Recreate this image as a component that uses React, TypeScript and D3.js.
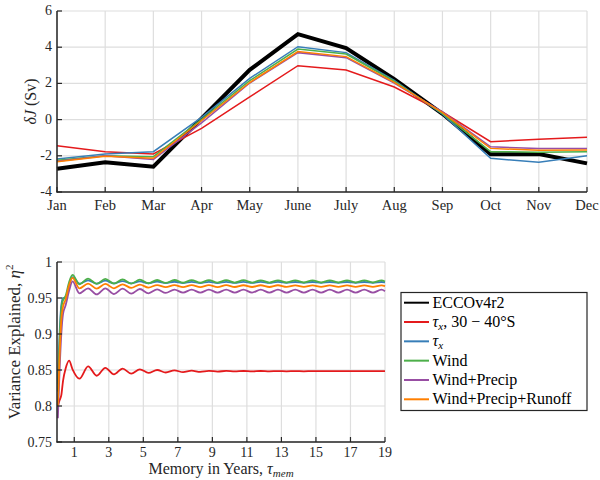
import React from "react";
import * as d3 from "d3";

// ---------- Top chart data ----------
const months = ["Jan", "Feb", "Mar", "Apr", "May", "June", "July", "Aug", "Sep", "Oct", "Nov", "Dec"];
const eccoJ = [-2.72, -2.36, -2.6, 0.07, 2.75, 4.72, 3.95, 2.24, 0.32, -1.92, -1.9, -2.42];
const tauX3040J = [-1.44, -1.77, -1.9, -0.48, 1.25, 2.98, 2.74, 1.8, 0.42, -1.22, -1.09, -0.98];
const tauXJ = [-2.18, -1.9, -1.77, 0.12, 2.28, 4.03, 3.7, 2.17, 0.3, -2.14, -2.36, -2.0];
const windJ = [-2.25, -2.0, -2.05, 0.02, 2.15, 3.9, 3.62, 2.12, 0.33, -1.77, -1.8, -1.77];
const windPrecipJ = [-2.3, -2.0, -2.2, -0.18, 2.02, 3.7, 3.42, 2.02, 0.42, -1.5, -1.6, -1.6];
const windPrecipRunoffJ = [-2.33, -2.03, -2.14, -0.05, 2.05, 3.76, 3.48, 2.06, 0.38, -1.59, -1.7, -1.68];
const topYTicks = [-4, -2, 0, 2, 4, 6];

// ---------- Bottom chart data ----------
const memoryYears = [0.05, 0.15, 0.25, 0.35, 0.5, 0.7, 0.9, 1.3, 1.8, 2.3, 2.8, 3.3, 3.8, 4.3, 4.8, 5.3, 5.8, 6.3, 6.8, 7.3, 7.8, 8.3, 8.8, 9.3, 9.8, 10.3, 10.8, 11.3, 11.8, 12.3, 12.8, 13.3, 13.8, 14.3, 14.8, 15.3, 15.8, 16.3, 16.8, 17.3, 17.8, 18.3, 18.8, 19.0];
const tauX3040Var = [0.8, 0.808, 0.815, 0.835, 0.852, 0.863, 0.851, 0.838, 0.855, 0.842, 0.853, 0.844, 0.852, 0.845, 0.851, 0.846, 0.85, 0.8465, 0.8495, 0.847, 0.849, 0.8475, 0.8488, 0.8478, 0.8487, 0.848, 0.8486, 0.848, 0.8486, 0.8481, 0.8485, 0.8482, 0.8485, 0.8482, 0.8485, 0.8483, 0.8485, 0.8483, 0.8485, 0.8483, 0.8485, 0.8483, 0.8485, 0.8484];
const tauXVar = [0.83, 0.9, 0.94, 0.95, 0.949, 0.968, 0.979, 0.97, 0.9745, 0.97, 0.974, 0.9702, 0.9735, 0.9703, 0.973, 0.9705, 0.9728, 0.9706, 0.9726, 0.9707, 0.9725, 0.9708, 0.9724, 0.9708, 0.9724, 0.9709, 0.9723, 0.9709, 0.9723, 0.9709, 0.9723, 0.971, 0.9722, 0.971, 0.9722, 0.971, 0.9722, 0.971, 0.9722, 0.971, 0.9722, 0.971, 0.9722, 0.9716];
const windVar = [0.82, 0.89, 0.935, 0.947, 0.953, 0.972, 0.982, 0.969, 0.977, 0.9695, 0.9765, 0.97, 0.976, 0.970, 0.9755, 0.9705, 0.975, 0.971, 0.975, 0.9712, 0.9748, 0.9712, 0.9748, 0.9713, 0.9747, 0.9713, 0.9747, 0.9714, 0.9746, 0.9714, 0.9746, 0.9715, 0.9745, 0.9715, 0.9745, 0.9715, 0.9745, 0.9715, 0.9745, 0.9715, 0.9745, 0.9715, 0.9745, 0.973];
const windPrecipVar = [0.783, 0.85, 0.9, 0.928, 0.94, 0.96, 0.973, 0.9565, 0.9635, 0.955, 0.9635, 0.9555, 0.963, 0.956, 0.9625, 0.9565, 0.962, 0.957, 0.9615, 0.9575, 0.9615, 0.9575, 0.9615, 0.9575, 0.9615, 0.9575, 0.9615, 0.9575, 0.9615, 0.9575, 0.9615, 0.9575, 0.9615, 0.9575, 0.9615, 0.9575, 0.9615, 0.9575, 0.9615, 0.9575, 0.9615, 0.9575, 0.9615, 0.9595];
const windPrecipRunoffVar = [0.8, 0.87, 0.92, 0.938, 0.948, 0.968, 0.978, 0.9635, 0.97, 0.963, 0.9695, 0.9635, 0.969, 0.964, 0.9685, 0.9645, 0.968, 0.965, 0.968, 0.965, 0.968, 0.9652, 0.9678, 0.9652, 0.9678, 0.9653, 0.9677, 0.9653, 0.9677, 0.9653, 0.9677, 0.9654, 0.9676, 0.9654, 0.9676, 0.9654, 0.9676, 0.9654, 0.9676, 0.9654, 0.9676, 0.9654, 0.9676, 0.9665];
const bottomXTicks = [1, 3, 5, 7, 9, 11, 13, 15, 17, 19];
const bottomYTicks = [0.75, 0.8, 0.85, 0.9, 0.95, 1];

const colors = {
  black: "#000000",
  red: "#e41a1c",
  blue: "#377eb8",
  green: "#4daf4a",
  purple: "#984ea3",
  orange: "#ff7f00",
};

const FONT = '"Liberation Serif", "DejaVu Serif", serif';
const AXIS = "#262626";
const GRID = "#dedede";
const fs = (size: number): React.CSSProperties => ({ fontFamily: FONT, fontSize: size + "px" });

export default function App() {
  const xTop = d3.scalePoint<string>().domain(months).range([57, 587]);
  const yTop = d3.scaleLinear().domain([-4, 6]).range([192, 11]);
  const lineTop = (vals: number[]) =>
    d3.line<number>().x((_, i) => xTop(months[i]) as number).y((v) => yTop(v))(vals) || "";

  const xBot = d3.scaleLinear().domain([0, 19]).range([57, 385]);
  const yBot = d3.scaleLinear().domain([0.75, 1]).range([442, 262]);
  const lineBot = (vals: number[]) =>
    d3
      .line<number>()
      .x((_, i) => xBot(memoryYears[i]))
      .y((v) => yBot(v))
      .curve(d3.curveMonotoneX)(vals) || "";

  const topSeries = [
    { v: tauX3040J, c: colors.red },
    { v: tauXJ, c: colors.blue },
    { v: windJ, c: colors.green },
    { v: windPrecipJ, c: colors.purple },
    { v: windPrecipRunoffJ, c: colors.orange },
  ];
  const botSeries = [
    { v: tauX3040Var, c: colors.red },
    { v: tauXVar, c: colors.blue },
    { v: windVar, c: colors.green },
    { v: windPrecipVar, c: colors.purple },
    { v: windPrecipRunoffVar, c: colors.orange },
  ];

  const legendRows = [
    { c: colors.black, label: <tspan>ECCOv4r2</tspan> },
    {
      c: colors.red,
      label: (
        <>
          <tspan fontStyle="italic">τ</tspan>
          <tspan fontStyle="italic" style={{ fontSize: "11px" }} dy="3">x</tspan>
          <tspan dy="-3">, 30 − 40°S</tspan>
        </>
      ),
    },
    {
      c: colors.blue,
      label: (
        <>
          <tspan fontStyle="italic">τ</tspan>
          <tspan fontStyle="italic" style={{ fontSize: "11px" }} dy="3">x</tspan>
        </>
      ),
    },
    { c: colors.green, label: <tspan>Wind</tspan> },
    { c: colors.purple, label: <tspan>Wind+Precip</tspan> },
    { c: colors.orange, label: <tspan>Wind+Precip+Runoff</tspan> },
  ];
  const legendY = d3.scaleLinear().domain([0, 5]).range([302.7, 399.3]);

  return (
    <svg
      width={600}
      height={480}
      style={{ position: "absolute", left: 0, top: 0, background: "#fff", fontFamily: FONT }}
    >
      <rect x={0} y={0} width={600} height={480} fill="#fff" />

      {/* ===== Top chart ===== */}
      <g>
        {months.map((m) => (
          <line key={"gx" + m} x1={xTop(m)} x2={xTop(m)} y1={11} y2={192} stroke={GRID} strokeWidth={1.2} />
        ))}
        {topYTicks.map((t) => (
          <line key={"gy" + t} x1={57} x2={587} y1={yTop(t)} y2={yTop(t)} stroke={GRID} strokeWidth={1.2} />
        ))}
        <path d={lineTop(eccoJ)} fill="none" stroke={colors.black} strokeWidth={4} />
        {topSeries.map((s, i) => (
          <path key={"ts" + i} d={lineTop(s.v)} fill="none" stroke={s.c} strokeWidth={1.5} />
        ))}
        <line x1={57} x2={57} y1={11} y2={192.5} stroke={AXIS} strokeWidth={1.5} />
        <line x1={56.5} x2={587} y1={192} y2={192} stroke={AXIS} strokeWidth={1.5} />
        {months.map((m) => (
          <g key={"tx" + m}>
            <line x1={xTop(m)} x2={xTop(m)} y1={192} y2={187} stroke={AXIS} strokeWidth={1.2} />
            <text x={xTop(m)} y={210} style={fs(14.5)} textAnchor="middle" fill={AXIS}>
              {m}
            </text>
          </g>
        ))}
        {topYTicks.map((t) => (
          <g key={"ty" + t}>
            <line x1={57} x2={62} y1={yTop(t)} y2={yTop(t)} stroke={AXIS} strokeWidth={1.2} />
            <text x={52} y={yTop(t) + 4} style={fs(14)} textAnchor="end" fill={AXIS}>
              {t}
            </text>
          </g>
        ))}
        <text transform="translate(36,101.5) rotate(-90)" style={fs(16)} textAnchor="middle" fill={AXIS}>
          <tspan fontStyle="italic">δJ</tspan>
          <tspan> (Sv)</tspan>
        </text>
      </g>

      {/* ===== Bottom chart ===== */}
      <g>
        {bottomXTicks.map((t) => (
          <line key={"bgx" + t} x1={xBot(t)} x2={xBot(t)} y1={262} y2={442} stroke={GRID} strokeWidth={1.2} />
        ))}
        {bottomYTicks.map((t) => (
          <line key={"bgy" + t} x1={57} x2={385} y1={yBot(t)} y2={yBot(t)} stroke={GRID} strokeWidth={1.2} />
        ))}
        {botSeries.map((s, i) => (
          <path key={"bs" + i} d={lineBot(s.v)} fill="none" stroke={s.c} strokeWidth={1.8} />
        ))}
        <line x1={57} x2={57} y1={262} y2={442.5} stroke={AXIS} strokeWidth={1.5} />
        <line x1={56.5} x2={385} y1={442} y2={442} stroke={AXIS} strokeWidth={1.5} />
        {bottomXTicks.map((t) => (
          <g key={"btx" + t}>
            <line x1={xBot(t)} x2={xBot(t)} y1={442} y2={437} stroke={AXIS} strokeWidth={1.2} />
            <text x={xBot(t)} y={457} style={fs(14)} textAnchor="middle" fill={AXIS}>
              {t}
            </text>
          </g>
        ))}
        {bottomYTicks.map((t) => (
          <g key={"bty" + t}>
            <line x1={57} x2={62} y1={yBot(t)} y2={yBot(t)} stroke={AXIS} strokeWidth={1.2} />
            <text x={52} y={yBot(t) + 4.5} style={fs(14)} textAnchor="end" fill={AXIS}>
              {String(t)}
            </text>
          </g>
        ))}
        <text x={221} y={474} style={fs(16)} textAnchor="middle" fill={AXIS}>
          <tspan>Memory in Years, </tspan>
          <tspan fontStyle="italic">τ</tspan>
          <tspan fontStyle="italic" style={{ fontSize: "11px" }} dy={3}>mem</tspan>
        </text>
        <text transform="translate(20,342) rotate(-90)" style={fs(17)} textAnchor="middle" fill={AXIS}>
          <tspan>Variance Explained, </tspan>
          <tspan fontStyle="italic">η</tspan>
          <tspan style={{ fontSize: "11px" }} dy={-7}>2</tspan>
        </text>
      </g>

      {/* ===== Legend ===== */}
      <g>
        <rect x={401} y={292.5} width={186} height={118} fill="#fff" stroke={AXIS} strokeWidth={1.2} />
        {legendRows.map((r, i) => (
          <g key={"lg" + i}>
            <line x1={404} x2={429} y1={legendY(i)} y2={legendY(i)} stroke={r.c} strokeWidth={2} />
            <text x={432.5} y={legendY(i) + 5} style={fs(16)} fill="#000">
              {r.label}
            </text>
          </g>
        ))}
      </g>
    </svg>
  );
}
